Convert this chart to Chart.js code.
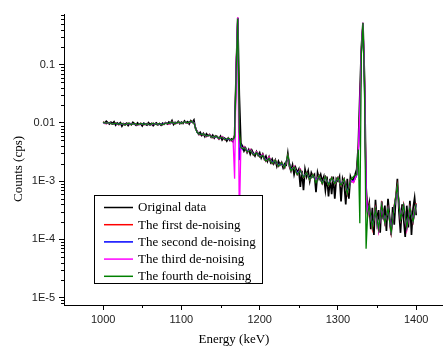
<!DOCTYPE html>
<html>
<head>
<meta charset="utf-8">
<script src="https://cdn.jsdelivr.net/npm/chart.js@4.4.0/dist/chart.umd.min.js"></script>
<style>
  html, body { margin: 0; padding: 0; background: #fff; }
</style>
</head>
<body>
<canvas id="canvas" width="443" height="346"></canvas>
<script>
"use strict";

var UNIT = 1e-4;

function steps(a, b, s) {
  var out = [];
  for (var e = a; e <= b; e += s) out.push(e);
  return out;
}

// energies (keV): raw spectrum every 2 keV, de-noised every 4 keV (2 keV round the two peaks)
var rawEnergy = steps(1000, 1400, 2);
var dnEnergy = [].concat(steps(1000, 1160, 4), steps(1164, 1180, 2), steps(1184, 1320, 4),
                         steps(1324, 1340, 2), steps(1344, 1400, 4));

var original = [
  104, 99, 107, 101, 96, 103, 98, 105, 92, 100,
  95, 101, 88, 97, 94, 99, 90, 98, 93, 102,
  96, 91, 100, 94, 97, 89, 99, 95, 92, 101,
  94, 98, 90, 96, 100, 93, 97, 91, 99, 95,
  101, 96, 104, 98, 110, 94, 102, 99, 106, 97,
  103, 98, 108, 100, 105, 96, 109, 102, 112, 80,
  72, 64, 69, 61, 66, 58, 65, 60, 63, 57,
  62, 55, 60, 58, 53, 59, 51, 56, 54, 49,
  55, 50, 53, 48, 62,
  800, 6400, 300, 45,
  40, 33, 37, 31, 35, 29, 34, 30, 27, 32,
  28, 31, 25, 29, 24, 27, 22, 26, 21, 24,
  20, 23, 18, 22, 19, 21, 17, 20, 19,
  30, 18,
  15, 19, 13, 17, 14, 16, 8, 15, 7, 16,
  12, 15, 10, 14, 12, 13, 6.5, 14, 11, 13,
  10, 12, 7, 12, 5.5, 11, 6, 12, 5, 11,
  10, 12, 4.5, 11, 9, 4, 11, 5, 12, 10,
  11, 13, 16, 40, 300, 2000, 5200, 600, 8, 3,
  4.2, 1.5, 3.5, 1.2, 4.8, 2.0, 3.2, 1.3, 4.5, 2.2,
  3.8, 1.4, 5.0, 2.5, 1.2, 3.6, 1.8, 5.0, 11, 3.0,
  1.3, 4.0, 2.2, 1.1, 3.8, 1.6, 4.6, 1.2, 3.4, 5.2, 2.6
];

var firstDenoise = [
  103, 97, 102, 95, 99, 93, 98, 92, 99, 94, 98, 92, 99, 93, 98, 91, 99, 94, 98, 93,
  101, 96, 103, 97, 104, 98, 105, 99, 107, 101,
  70, 62, 66, 58, 63, 56, 60, 53, 58, 51, 55,
  49, 54, 58, 900, 6400, 60, 40, 36, 39,
  32, 35, 28, 32, 26, 29, 22, 26, 20, 23, 18, 21, 17, 27, 15, 18, 13, 16, 11.5, 14,
  10.5, 13, 10, 12.5, 9, 12, 8.5, 11.5, 9, 11.5, 8.5, 11, 6, 10.5, 9.5,
  13, 30, 150, 1800, 5200, 500, 7, 2.5, 3.8,
  1.5, 3.4, 1.4, 4.0, 1.9, 3.4, 1.3, 3.8, 8.5, 2.2, 4.0, 1.5, 3.6, 2.0, 4.2
];
var secondDenoise = [
  101, 98, 100, 96, 98, 94, 97, 93, 98, 95, 97, 93, 98, 94, 97, 92, 98, 95, 97, 94,
  100, 97, 102, 98, 103, 99, 104, 100, 106, 102,
  69, 63, 65, 59, 62, 57, 59, 54, 57, 52, 54,
  50, 53, 57, 850, 6300, 23, 42, 35, 38,
  33, 34, 29, 31, 27, 28, 23, 25, 21, 22, 19, 20, 18, 26, 16, 17, 14, 15, 12, 13.5,
  11, 12.5, 10.5, 12, 9.5, 11.5, 9, 11, 9.5, 11, 9, 10.5, 6.5, 10, 10,
  12.5, 28, 140, 1700, 5100, 450, 6.5, 2.7, 3.6,
  1.7, 3.2, 1.5, 3.8, 2.0, 3.3, 1.4, 3.6, 8.0, 2.3, 3.8, 1.6, 3.4, 2.1, 4.0
];
var thirdDenoise = [
  102, 97, 101, 95, 99, 93, 98, 93, 98, 94, 98, 92, 98, 93, 98, 91, 98, 94, 98, 93,
  101, 96, 103, 97, 103, 98, 105, 99, 106, 101,
  70, 62, 66, 58, 63, 56, 60, 53, 58, 51, 55,
  49, 53, 11, 950, 6500, 2, 39, 36, 39,
  32, 35, 28, 32, 26, 29, 22, 26, 20, 23, 18, 21, 17, 27, 15, 18, 13, 16, 11.5, 14,
  10.5, 13, 10, 12.5, 9, 12, 8.5, 11.5, 9, 11.5, 8.5, 11, 6, 10.5, 9.5,
  13, 30, 150, 1900, 5300, 520, 6, 2.6, 3.7,
  1.6, 3.3, 1.4, 3.9, 1.9, 3.4, 1.3, 3.7, 7.8, 2.2, 3.9, 1.5, 3.5, 2.0, 4.1
];
var fourthDenoise = [
  102, 98, 101, 95, 99, 94, 98, 92, 99, 94, 98, 93, 98, 94, 97, 92, 99, 94, 98, 93,
  100, 97, 103, 97, 104, 98, 105, 100, 107, 100,
  69, 63, 65, 59, 62, 56, 60, 54, 57, 51, 55,
  50, 53, 57, 800, 6200, 70, 38, 36, 38,
  32, 34, 28, 31, 26, 28, 22, 25, 20, 23, 18, 21, 17, 28, 15, 17.5, 13, 15.5, 11.5, 14,
  10.5, 13, 9.5, 12.5, 9, 12, 8.5, 11.5, 9, 11.5, 8.5, 11, 6, 10.5, 12,
  13, 35, 1.9, 1600, 5250, 400, 0.69, 2.8, 3.8,
  1.6, 3.3, 1.5, 3.9, 1.9, 3.4, 1.3, 3.7, 8.2, 2.2, 3.9, 1.6, 3.5, 2.0, 4.1
];

var seriesLabels = ['Original data', 'The first de-noising', 'The second de-noising', 'The third de-noising', 'The fourth de-noising'];
var seriesColors = ['#000000', '#ff0000', '#0000ff', '#ff00ff', '#008000'];

var xTicks = [1000, 1100, 1200, 1300, 1400];
var xMinorTicks = [1050, 1150, 1250, 1350];
var yTicks = [1e-5, 1e-4, 1e-3, 0.01, 0.1];
var yTickLabels = ['1E-5', '1E-4', '1E-3', '0.01', '0.1'];

function toPoints(energy, vals) {
  return vals.map(function(v, i) { return { x: energy[i], y: v * UNIT }; });
}

var seriesData = [
  toPoints(rawEnergy, original),
  toPoints(dnEnergy, firstDenoise),
  toPoints(dnEnergy, secondDenoise),
  toPoints(dnEnergy, thirdDenoise),
  toPoints(dnEnergy, fourthDenoise)
];

var SERIF = '13px "Liberation Serif", "Times New Roman", serif';

// minor tick marks and axis titles
var extrasPlugin = {
  id: 'extras',
  afterDraw: function(chart) {
    var ctx = chart.ctx;
    var xs = chart.scales.x, ys = chart.scales.y;
    ctx.save();
    ctx.strokeStyle = '#000';
    ctx.lineWidth = 1;
    ctx.beginPath();
    for (var d = -6; d <= 0; d++) {
      for (var m = 2; m <= 9; m++) {
        var v = m * Math.pow(10, d);
        if (v < ys.min || v > ys.max) continue;
        var py = Math.round(ys.getPixelForValue(v)) + 0.5;
        ctx.moveTo(ys.right - 3, py);
        ctx.lineTo(ys.right, py);
      }
    }
    xMinorTicks.forEach(function(t) {
      var px = Math.round(xs.getPixelForValue(t)) + 0.5;
      ctx.moveTo(px, xs.top);
      ctx.lineTo(px, xs.top + 3);
    });
    ctx.stroke();

    ctx.fillStyle = '#000';
    ctx.font = SERIF;
    ctx.textAlign = 'center';
    ctx.textBaseline = 'middle';
    ctx.fillText('Energy (keV)', 234, 340);
    ctx.translate(19, 169);
    ctx.rotate(-Math.PI / 2);
    ctx.fillText('Counts (cps)', 0, 0);
    ctx.restore();
  }
};

// boxed legend inside the plot
var boxLegendPlugin = {
  id: 'boxLegend',
  afterDraw: function(chart) {
    var ctx = chart.ctx;
    ctx.save();
    ctx.fillStyle = '#fff';
    ctx.fillRect(94.5, 195.5, 168, 88);
    ctx.strokeStyle = '#000';
    ctx.lineWidth = 1;
    ctx.strokeRect(94.5, 195.5, 168, 88);
    ctx.font = SERIF;
    ctx.textAlign = 'left';
    ctx.textBaseline = 'middle';
    seriesLabels.forEach(function(label, i) {
      var y = 207.5 + i * 17.2;
      ctx.strokeStyle = seriesColors[i];
      ctx.lineWidth = 1.5;
      ctx.beginPath();
      ctx.moveTo(104, y);
      ctx.lineTo(133, y);
      ctx.stroke();
      ctx.fillStyle = '#000';
      ctx.fillText(label, 138, y + 0.5);
    });
    ctx.restore();
  }
};

window.onload = function() {
  var ctx = document.getElementById('canvas').getContext('2d');
  window.myChart = new Chart(ctx, {
    type: 'line',
    data: {
      datasets: seriesData.map(function(pts, i) {
        return {
          label: seriesLabels[i],
          data: pts,
          borderColor: seriesColors[i],
          backgroundColor: seriesColors[i],
          borderWidth: i === 0 ? 1.7 : 1.3,
          pointRadius: 0,
          tension: 0,
          fill: false,
          order: 5 - i
        };
      })
    },
    options: {
      responsive: false,
      animation: false,
      devicePixelRatio: 1,
      layout: { padding: { top: 14, right: 1, left: 0, bottom: 0 } },
      plugins: {
        legend: { display: false },
        title: { display: false },
        tooltip: { enabled: false }
      },
      scales: {
        x: {
          type: 'linear',
          min: 950,
          max: 1433,
          afterBuildTicks: function(scale) {
            scale.ticks = xTicks.map(function(v) { return { value: v }; });
          },
          afterFit: function(scale) { scale.height = 41; },
          grid: { display: true, drawOnChartArea: false, drawTicks: true, tickLength: 5, color: '#000' },
          border: { display: true, color: '#000', width: 1 },
          ticks: {
            padding: 3,
            maxRotation: 0,
            color: '#222',
            font: { family: '"Liberation Sans", Arial, sans-serif', size: 11 },
            callback: function(value) { return String(value); }
          }
        },
        y: {
          type: 'logarithmic',
          min: 7.5e-6,
          max: 0.74,
          afterBuildTicks: function(scale) {
            scale.ticks = yTicks.map(function(v) { return { value: v, major: true }; });
          },
          afterFit: function(scale) { scale.width = 64; },
          grid: { display: true, drawOnChartArea: false, drawTicks: true, tickLength: 5, color: '#000' },
          border: { display: true, color: '#000', width: 1 },
          ticks: {
            padding: 4,
            color: '#222',
            font: { family: '"Liberation Sans", Arial, sans-serif', size: 11 },
            callback: function(value, index) { return yTickLabels[index]; }
          }
        }
      }
    },
    plugins: [extrasPlugin, boxLegendPlugin]
  });
};
</script>
</body>
</html>
